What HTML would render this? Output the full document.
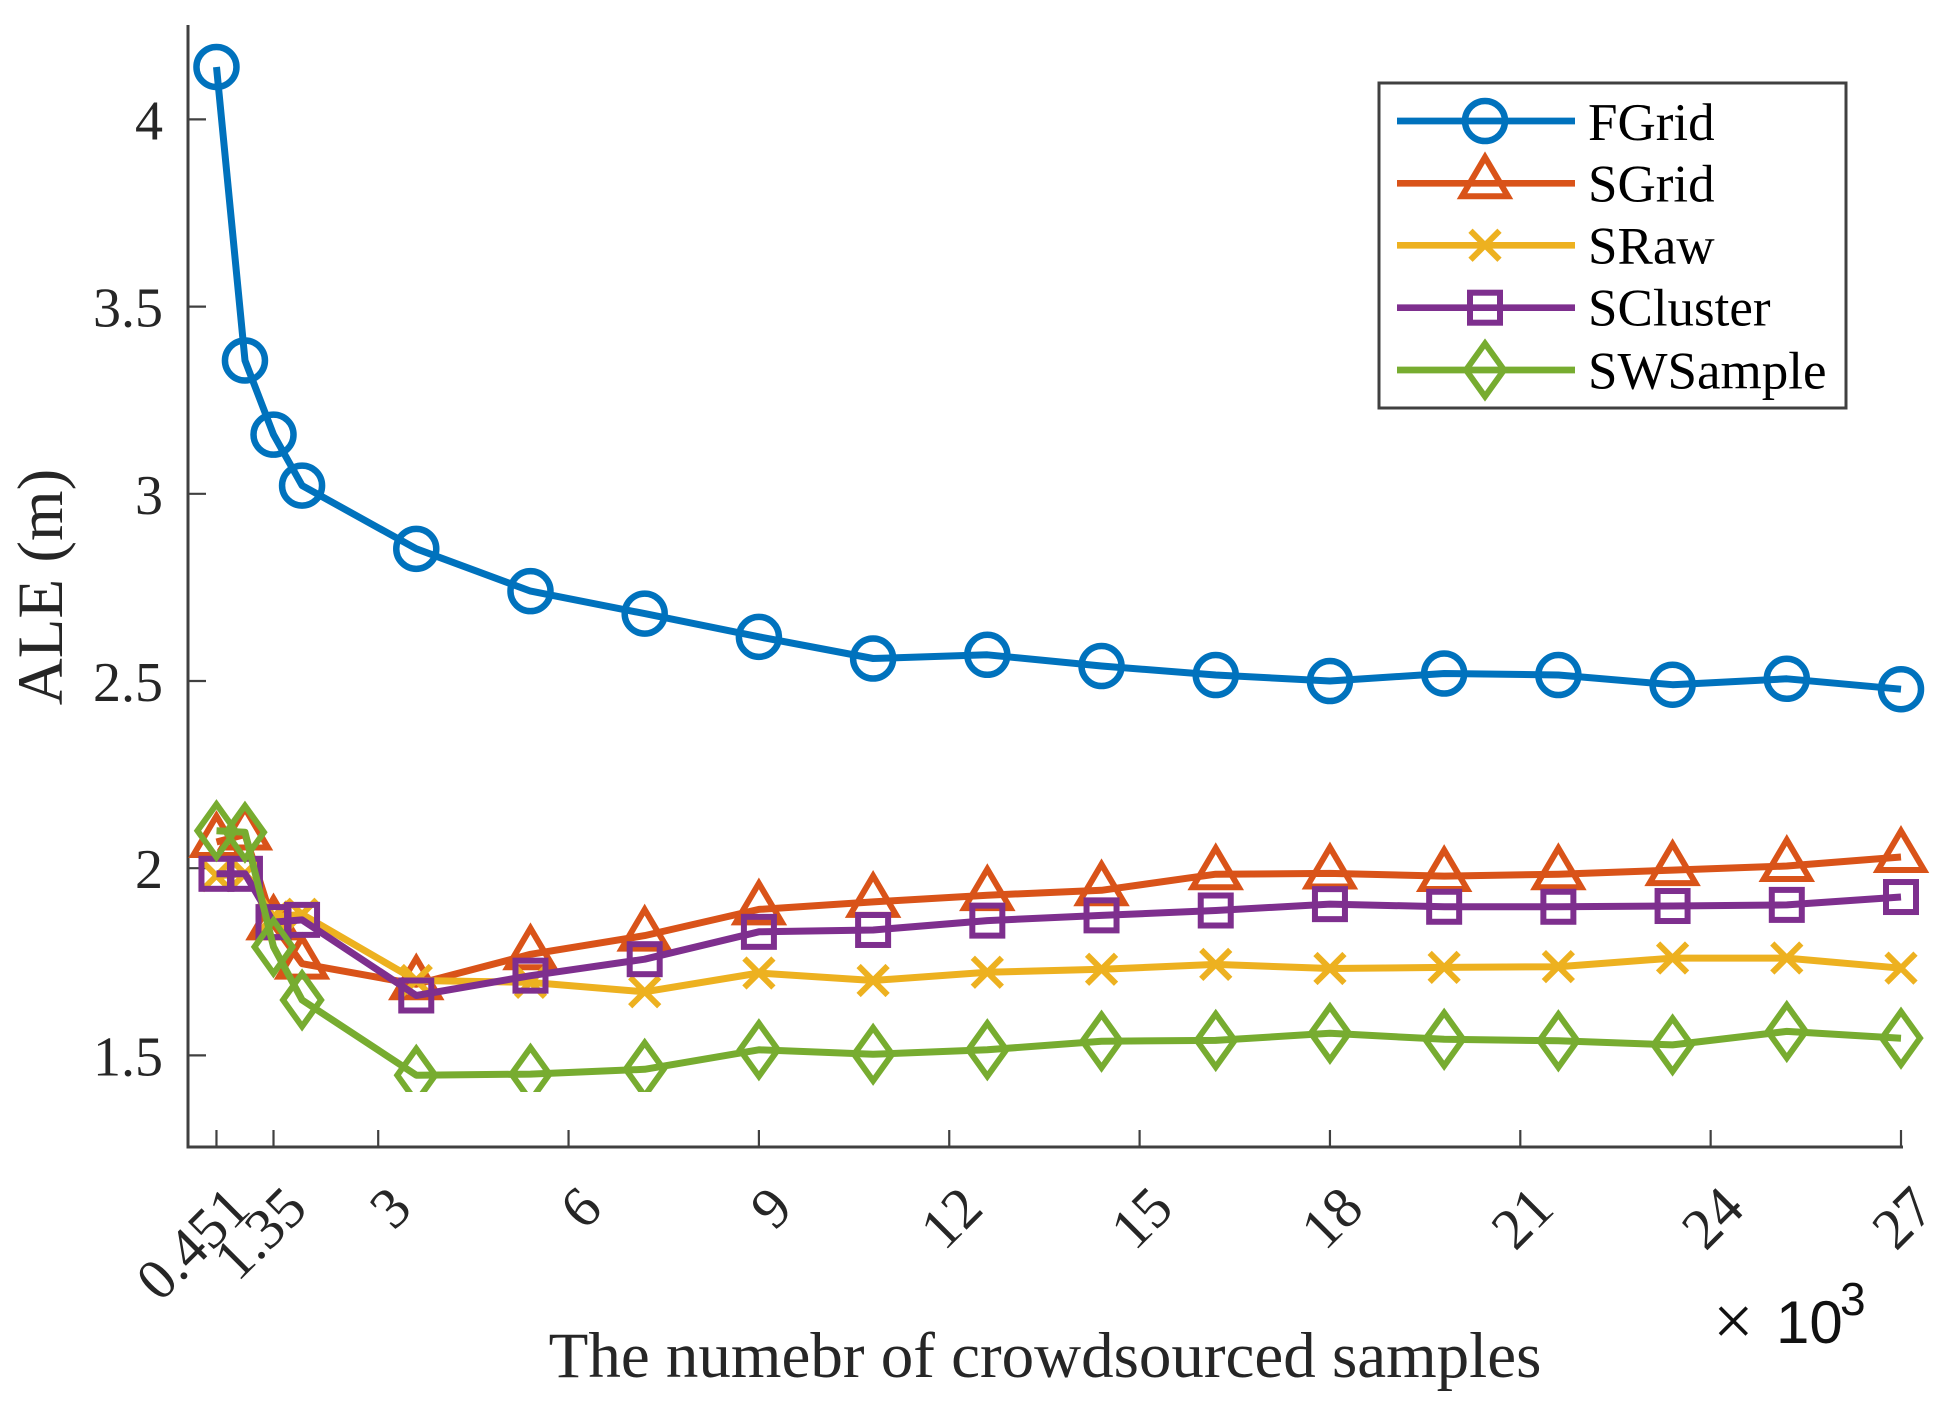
<!DOCTYPE html>
<html lang="en">
<head>
<meta charset="utf-8">
<title>ALE versus number of crowdsourced samples</title>
<style>
html,body{margin:0;padding:0;background:#fff;}
svg{display:block;font-family:"Liberation Serif",serif;}
</style>
</head>
<body>
<svg id="chart" xmlns="http://www.w3.org/2000/svg" width="1940" height="1407" viewBox="0 0 1940 1407">
  <defs>
    <clipPath id="plot-clip"><rect x="0" y="0" width="1940" height="1092"></rect></clipPath>
  </defs>
  <rect x="0" y="0" width="1940" height="1407" fill="#fff"></rect>
  <g id="axes"></g>
  <g id="series" clip-path="url(#plot-clip)"></g>
  <text transform="translate(62,587) rotate(-90)" text-anchor="middle" font-size="65" fill="#262626">ALE (m)</text>
  <text x="1045" y="1377" text-anchor="middle" font-size="65" fill="#262626">The numebr of crowdsourced samples</text>
  <g fill="#111" font-family="'Liberation Sans',sans-serif">
    <text x="1713" y="1345" font-size="72" font-family="'Liberation Serif',serif">×</text>
    <text x="1776" y="1343" font-size="60">10</text>
    <text x="1840" y="1315" font-size="46">3</text>
  </g>
  <g id="legend">
    <rect x="1379" y="83" width="467" height="325" fill="#fff" stroke="#404040" stroke-width="3"></rect>
  </g>
</svg>
<script>
var xValues = [0.451, 0.9, 1.35, 1.8, 3.6, 5.4, 7.2, 9, 10.8, 12.6, 14.4, 16.2, 18, 19.8, 21.6, 23.4, 25.2, 27];
var fgridValues = [4.14, 3.356, 3.158, 3.022, 2.853, 2.74, 2.68, 2.618, 2.56, 2.57, 2.54, 2.516, 2.5, 2.52, 2.516, 2.49, 2.506, 2.478];
var sgridValues = [2.07, 2.09, 1.85, 1.745, 1.69, 1.77, 1.82, 1.89, 1.91, 1.928, 1.941, 1.984, 1.986, 1.979, 1.984, 1.995, 2.006, 2.03];
var srawValues = [1.98, 1.985, 1.87, 1.877, 1.70, 1.695, 1.67, 1.72, 1.70, 1.722, 1.73, 1.743, 1.732, 1.735, 1.737, 1.76, 1.76, 1.733];
var sclusterValues = [1.985, 1.985, 1.856, 1.862, 1.66, 1.713, 1.757, 1.83, 1.835, 1.86, 1.874, 1.887, 1.904, 1.897, 1.897, 1.899, 1.902, 1.923];
var swsampleValues = [2.10, 2.096, 1.79, 1.648, 1.447, 1.45, 1.463, 1.515, 1.503, 1.515, 1.538, 1.54, 1.559, 1.543, 1.539, 1.528, 1.564, 1.546];
var seriesNames = ['FGrid', 'SGrid', 'SRaw', 'SCluster', 'SWSample'];
var xTickValues = [0.451, 1.35, 3, 6, 9, 12, 15, 18, 21, 24, 27];
var xTickLabels = ['0.451', '1.35', '3', '6', '9', '12', '15', '18', '21', '24', '27'];
var yTickValues = [1.5, 2, 2.5, 3, 3.5, 4];
var yTickLabels = ['1.5', '2', '2.5', '3', '3.5', '4'];

var NS = 'http://www.w3.org/2000/svg';
var seriesValues = [fgridValues, sgridValues, srawValues, sclusterValues, swsampleValues];
var seriesColors = ['#0072BD', '#D95319', '#EDB120', '#7E2F8E', '#77AC30'];
var seriesMarkers = ['circle', 'triangle', 'cross', 'square', 'diamond'];

function xScale(v) { return 1901 - (27 - v) * 63.45; }
function yScale(v) { return 119.4 + (4 - v) * 374.4; }
function make(tag, attrs, parent) {
  var el = document.createElementNS(NS, tag);
  for (var k in attrs) { el.setAttribute(k, attrs[k]); }
  parent.appendChild(el);
  return el;
}
function slug(s) { return String(s).toLowerCase().replace(/\./g, '-'); }

var axes = document.getElementById('axes');
var AXIS = '#404040';
var xAxisY = 1147;
var yAxisX = 188;

var yAxisLine = make('line', {x1: yAxisX, y1: 25, x2: yAxisX, y2: xAxisY + 1.5, stroke: AXIS, 'stroke-width': 3}, axes);


var xAxisLine = make('line', {x1: yAxisX, y1: xAxisY, x2: 1903, y2: xAxisY, stroke: AXIS, 'stroke-width': 3}, axes);



yTickValues.forEach(function (v, i) {
  var y = yScale(v);
  var tick = make('line', {x1: yAxisX, y1: y, x2: yAxisX + 18, y2: y, stroke: AXIS, 'stroke-width': 2.2}, axes);
  
  
  var label = make('text', {x: 163, y: y + 20, 'text-anchor': 'end', 'font-size': 56, fill: '#262626'}, axes);
  label.textContent = yTickLabels[i];
  
  
});

xTickValues.forEach(function (v, i) {
  var x = xScale(v);
  var tick = make('line', {x1: x, y1: xAxisY, x2: x, y2: xAxisY - 17, stroke: AXIS, 'stroke-width': 2.2}, axes);
  
  
  var lx = x + 36, ly = 1211;
  var label = make('text', {x: lx, y: ly, 'text-anchor': 'end', 'font-size': 58, fill: '#262626',
    transform: 'rotate(-45 ' + lx + ' ' + ly + ')'}, axes);
  label.textContent = xTickLabels[i];
  
  
});

function drawMarker(kind, cx, cy, color, parent) {
  var style = {fill: 'none', stroke: color, 'stroke-width': kind === 'circle' ? 6.5 : 6};
  var el;
  if (kind === 'circle') {
    el = make('circle', {cx: cx, cy: cy, r: 20}, parent);
  } else if (kind === 'triangle') {
    el = make('polygon', {points: [cx, cy - 26, cx + 23, cy + 13, cx - 23, cy + 13].join(' ')}, parent);
  } else if (kind === 'cross') {
    el = make('path', {d: 'M' + (cx - 14.5) + ' ' + (cy - 14.5) + 'L' + (cx + 14.5) + ' ' + (cy + 14.5) +
      'M' + (cx + 14.5) + ' ' + (cy - 14.5) + 'L' + (cx - 14.5) + ' ' + (cy + 14.5)}, parent);
  } else if (kind === 'square') {
    el = make('rect', {x: cx - 15, y: cy - 15, width: 30, height: 30}, parent);
  } else {
    el = make('polygon', {points: [cx, cy - 26.5, cx + 19, cy, cx, cy + 26.5, cx - 19, cy].join(' ')}, parent);
  }
  for (var k in style) { el.setAttribute(k, style[k]); }
  return el;
}

var seriesRoot = document.getElementById('series');
seriesValues.forEach(function (values, s) {
  var key = seriesNames[s].toLowerCase();
  var g = make('g', {}, seriesRoot);
  
  
  var pts = values.map(function (v, i) { return xScale(xValues[i]).toFixed(1) + ',' + yScale(v).toFixed(1); }).join(' ');
  var line = make('polyline', {points: pts, fill: 'none', stroke: seriesColors[s], 'stroke-width': 7, 'stroke-linejoin': 'round'}, g);
  
  
  values.forEach(function (v, i) {
    var m = drawMarker(seriesMarkers[s], xScale(xValues[i]), yScale(v), seriesColors[s], g);
    
    
  });
});

var legend = document.getElementById('legend');
var legendLineY = [121, 183.3, 245.3, 307.7, 370];
var legendTextY = [140, 201.7, 263.3, 325.7, 388.3];
seriesNames.forEach(function (name, s) {
  var key = name.toLowerCase();
  var g = make('g', {}, legend);
  
  
  var swatch = make('line', {x1: 1397, y1: legendLineY[s], x2: 1575, y2: legendLineY[s], stroke: seriesColors[s], 'stroke-width': 6.7}, g);
  
  
  var mk = drawMarker(seriesMarkers[s], 1485, legendLineY[s], seriesColors[s], g);
  
  
  var text = make('text', {x: 1588, y: legendTextY[s], 'font-size': 53, fill: '#000'}, g);
  text.textContent = name;
  
  
});
</script>
</body>
</html>
